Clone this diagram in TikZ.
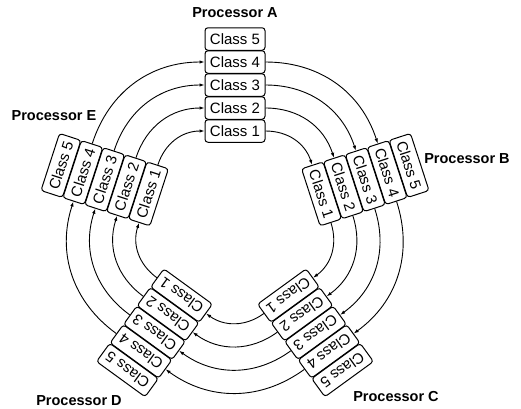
\documentclass[tikz,border=0pt]{standalone}
\usepackage{fontspec}
\setmainfont{Liberation Sans}
\usetikzlibrary{arrows.meta}
\tikzset{
  cls/.style={draw,line width=1pt,rounded corners=3pt,minimum width=60pt,minimum height=22.5pt,inner sep=0pt,font=\fontsize{15}{15}\selectfont},
  proc/.style={font=\bfseries\fontsize{14.5}{15}\selectfont},
  flow/.style={line width=0.9pt,-{Latex[length=5pt,width=3.5pt]}}
}
\begin{document}
\begin{tikzpicture}[x=1pt,y=1pt]
  \useasboundingbox (-235,-186) rectangle (286,222);
  % five processors round the ring, classes stacked outwards
  \foreach \p/\n in {0/A,1/B,2/C,3/D,4/E}
    \foreach \k in {1,...,5}
      \node[cls,rotate=-72*\p] (\n\k) at ({90-72*\p}:{137+(\k-3)*23}) {Class \k};
  % class k on one processor feeds class k+1 on the next
  \foreach \n/\m/\r [evaluate=\r as \rin using \r+108] in {A/B/0,B/C/-72,C/D/-144,D/E/-216,E/A/-288}
    \foreach \k [evaluate=\k as \j using int(\k+1)] in {1,...,4}
      \draw[flow] (\n\k.east) to[out=\r,in=\rin] (\m\j.west);
  \node[proc] (procA) at (0,209) {Processor A};
  \node[proc] (procB) at (232,63) {Processor B};
  \node[proc] (procC) at (161,-174) {Processor C};
  \node[proc] (procD) at (-156,-179) {Processor D};
  \node[proc] (procE) at (-181,106) {Processor E};
\end{tikzpicture}
\end{document}
